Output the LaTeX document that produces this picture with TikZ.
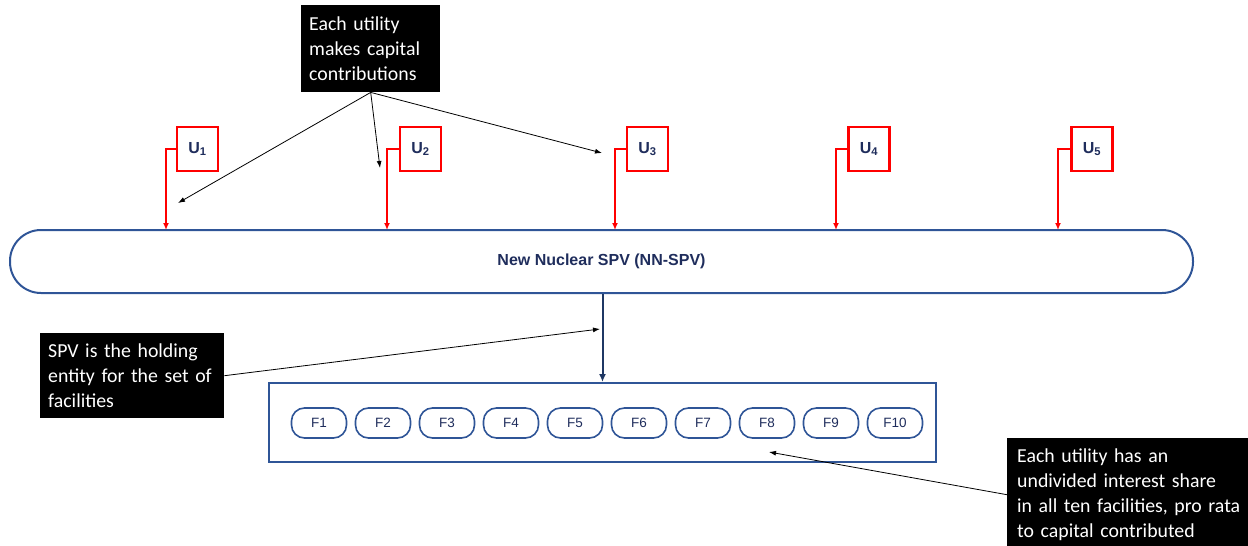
\documentclass[tikz,border=0pt]{standalone}
\usepackage{fontspec}
\setmainfont{Liberation Sans}
\newfontfamily\calib{Carlito}
\usetikzlibrary{arrows.meta}
\definecolor{bordblue}{HTML}{2F5597}
\definecolor{navy}{HTML}{1F2D5C}
\definecolor{arrnavy}{HTML}{1F3864}
\tikzset{
  x=1pt,y=-1pt,
  blackbox/.style={fill=black,text=white,align=left,inner xsep=8pt,inner ysep=0pt,
    font=\calib\fontsize{19.8}{25}\selectfont},
  ubox/.style={draw=red,line width=2.2pt,fill=white,minimum width=41pt,minimum height=44pt,
    inner sep=0pt,text=navy,font=\bfseries\fontsize{16}{18}\selectfont},
  redarrow/.style={draw=red,line width=2.2pt,-{Latex[length=7pt,width=6pt]}},
  blackarrow/.style={draw=black,line width=0.8pt,-{Latex[length=7pt,width=5pt]}},
  fpill/.style={draw=bordblue,line width=1.6pt,rounded corners=13pt,minimum width=55pt,
    minimum height=30pt,inner sep=0pt,text=navy,font=\fontsize{13.5}{15}\selectfont},
}
\begin{document}
\begin{tikzpicture}
\useasboundingbox (0,0) rectangle (1248,546);
\clip (0,0) rectangle (1248,546);
% SPV
\node (spv) [draw=bordblue,line width=2pt,rounded corners=31pt,minimum width=1183pt,
  minimum height=63pt,inner sep=0pt,text=navy,font=\bfseries\fontsize{16}{18}\selectfont]
  at (601.5,261.5) {New Nuclear SPV (NN-SPV)};
% facilities box
\node (fbox) [draw=bordblue,line width=2pt,minimum width=667pt,minimum height=79pt,inner sep=0pt]
  at (602.5,422.5) {};
\foreach \i in {1,...,10}{
  \node (f\i) [fpill] at ({319+64*(\i-1)},423) {F\i};
}
\draw[draw=arrnavy,line width=2pt,-{Latex[length=8pt,width=7pt]}] (spv.south -| fbox.north) -- (fbox.north);
% utilities
\foreach \i/\ux/\lx in {1/197.5/166,2/420.5/387,3/647.5/615,4/869/836,5/1092/1058}{
  \node (u\i) [ubox] at (\ux,149) {U\textsubscript{\i}};
  \coordinate (s\i) at (\lx,230);
  \draw[redarrow] (u\i.west) -| (s\i);
}
% annotation boxes
\node (capbox) [blackbox,text width=123pt,minimum height=87pt,anchor=north west,inner xsep=8pt]
  at (301,5) {Each utility\\\mbox{makes capital}\\\mbox{contributions}};
\node (lbox) [blackbox,text width=168pt,minimum height=85pt,anchor=north west]
  at (40,333) {\mbox{SPV is the holding}\\\mbox{entity for the set of}\\facilities};
\node (rbox) [blackbox,text width=250pt,minimum height=113pt,anchor=north west,inner xsep=10pt]
  at (1007,438) {Each utility has an\\\mbox{undivided interest share}\\\mbox{in all ten facilities, pro rata}\\\mbox{to capital contributed}};
% annotation arrows
\coordinate (a1) at (178,203);
\coordinate (a2) at (380,168);
\coordinate (a3) at (602,153);
\coordinate (a4) at (600,329);
\coordinate (a5) at (769,452);
\draw[blackarrow] (capbox.south) -- (a1);
\draw[blackarrow] (capbox.south) -- (a2);
\draw[blackarrow] (capbox.south) -- (a3);
\draw[blackarrow] (lbox.east) -- (a4);
\draw[blackarrow] (rbox.west) -- (a5);
\end{tikzpicture}
\end{document}
